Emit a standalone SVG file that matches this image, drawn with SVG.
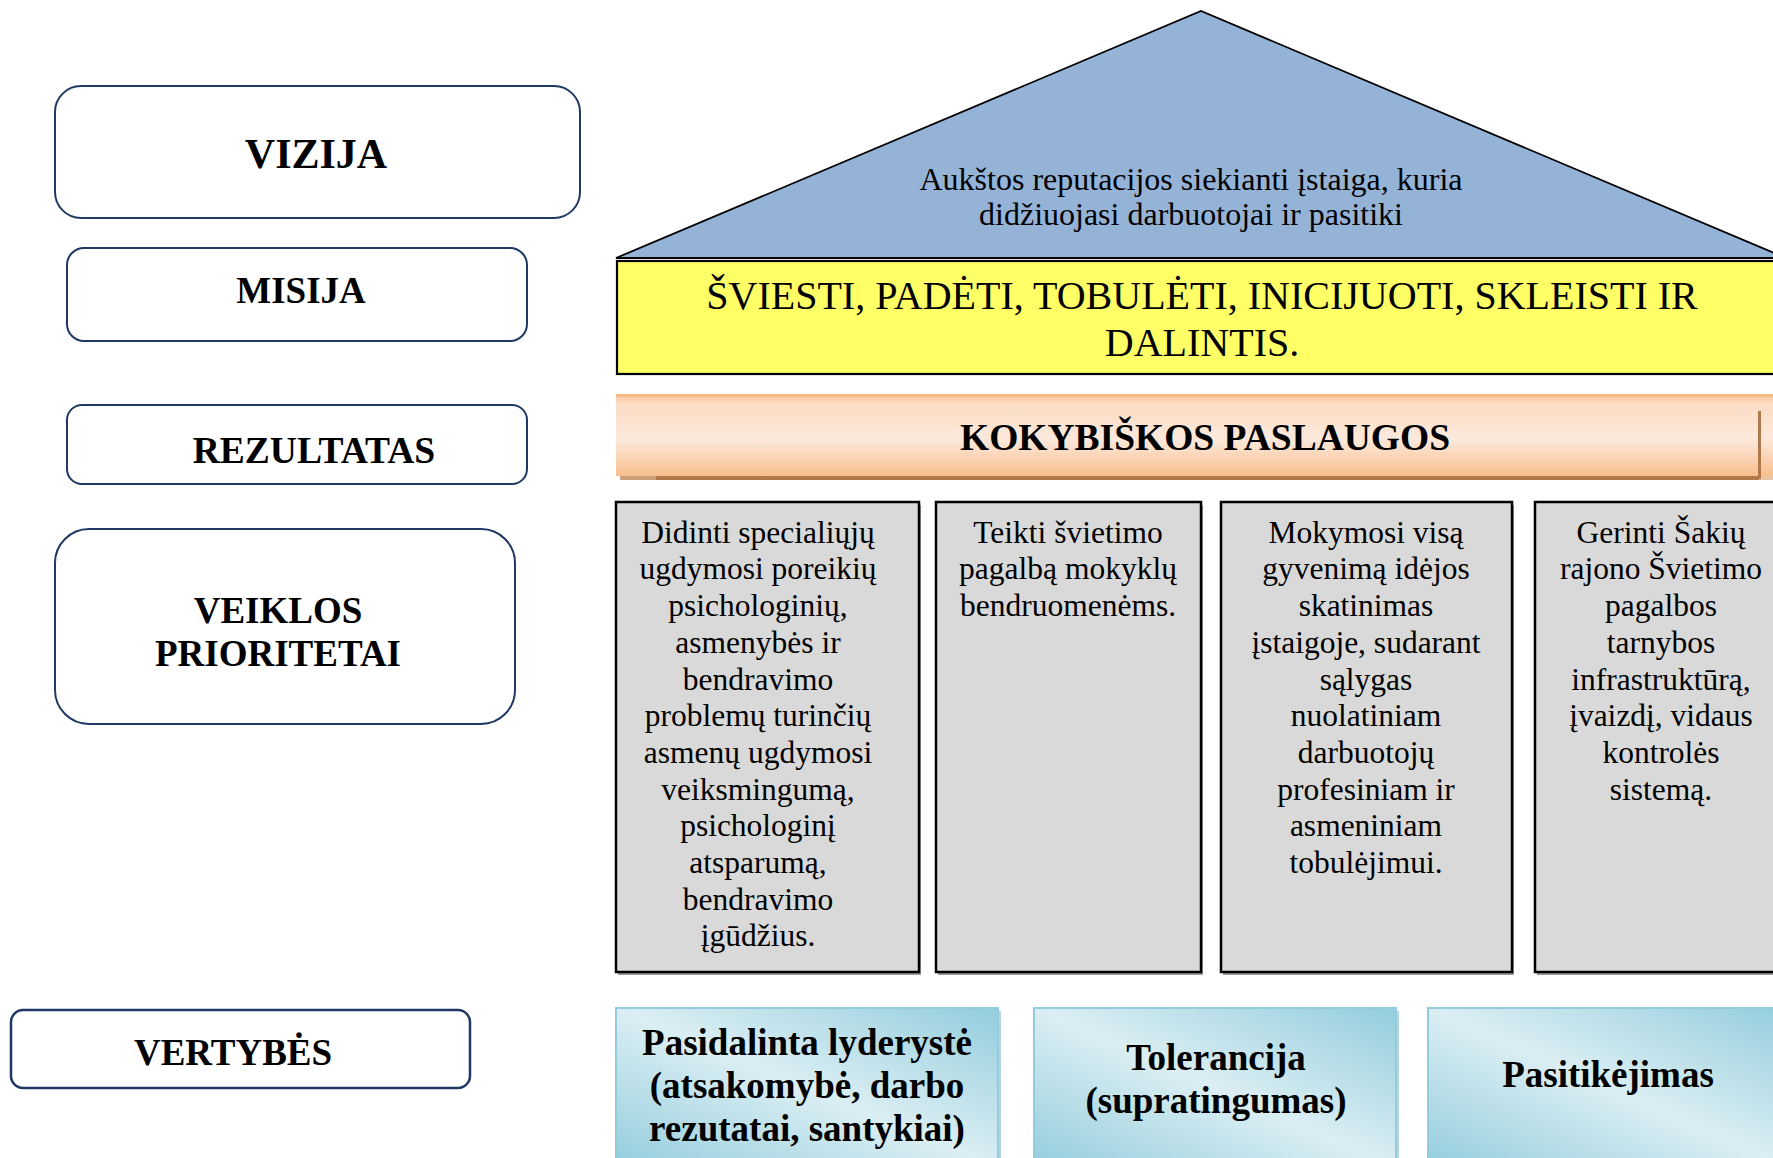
<svg xmlns="http://www.w3.org/2000/svg" width="1773" height="1158" viewBox="0 0 1773 1158">
<defs>
<linearGradient id="blueG" x1="0" y1="1" x2="1" y2="0">
<stop offset="0" stop-color="#93cddd"/>
<stop offset="0.5" stop-color="#dbeef3"/>
<stop offset="1" stop-color="#93cddd"/>
</linearGradient>
<linearGradient id="orangeG" x1="0" y1="0" x2="0" y2="1">
<stop offset="0" stop-color="#f9c396"/>
<stop offset="0.12" stop-color="#fbdcc4"/>
<stop offset="0.55" stop-color="#fce9dc"/>
<stop offset="1" stop-color="#f8be8c"/>
</linearGradient>
<style>
.lbl{fill:#fff;stroke:#1f3864;stroke-width:2}
.lt{font-family:"Liberation Serif","Times New Roman",serif;font-weight:bold;font-size:37px;text-anchor:middle;fill:#000}
.t{font-family:"Liberation Serif","Times New Roman",serif;text-anchor:middle;fill:#000}
.col{fill:#d9d9d9;stroke:#000;stroke-width:2.5}
.colsh{fill:#9a9a9a}
.ct{font-size:31.5px}
.val{fill:url(#blueG);stroke:#93cddd;stroke-width:2}
.vt{font-family:"Liberation Serif","Times New Roman",serif;font-weight:bold;font-size:37px;text-anchor:middle;fill:#000}
</style>
</defs>

<g id="vizija-label">
<rect class="lbl" x="55" y="86" width="525" height="132" rx="26" ry="26"/>
<text class="lt" x="316" y="168" style="font-size:42px">VIZIJA</text>
</g>
<g id="misija-label">
<rect class="lbl" x="67" y="248" width="460" height="93" rx="17" ry="17"/>
<text class="lt" x="301" y="303">MISIJA</text>
</g>
<g id="rezultatas-label">
<rect class="lbl" x="67" y="405" width="460" height="79" rx="15" ry="15"/>
<text class="lt" x="314" y="463" style="font-size:37.5px">REZULTATAS</text>
</g>
<g id="prioritetai-label">
<rect class="lbl" x="55" y="529" width="460" height="195" rx="34" ry="34"/>
<text class="lt" x="278" y="623">VEIKLOS</text>
<text class="lt" x="278" y="666">PRIORITETAI</text>
</g>
<g id="vertybes-label">
<rect class="lbl" x="11" y="1010" width="459" height="78" rx="12" ry="12" style="stroke-width:2.5"/>
<text class="lt" x="233" y="1065">VERTYBĖS</text>
</g>

<g id="vizija-roof">
<polygon points="616,258 1201,11 1786,258" fill="#95b3d7" stroke="#000" stroke-width="1.8"/>
<text class="t" x="1191" y="190" style="font-size:32px">Aukštos reputacijos siekianti įstaiga, kuria</text>
<text class="t" x="1191" y="225" style="font-size:32px">didžiuojasi darbuotojai ir pasitiki</text>
</g>

<g id="misija-beam">
<rect x="617" y="261" width="1170" height="113" fill="#ffff66" stroke="#000" stroke-width="2.2"/>
<text class="t" x="1202" y="309" style="font-size:40px">ŠVIESTI, PADĖTI, TOBULĖTI, INICIJUOTI, SKLEISTI IR</text>
<text class="t" x="1202" y="356" style="font-size:40px">DALINTIS.</text>
</g>

<g id="rezultatas-banner">
<rect x="620" y="476" width="1139" height="4" fill="#b07848"/>
<rect x="620" y="476" width="36" height="4" fill="#c9a07a"/>
<rect x="1759" y="476" width="20" height="4" fill="#e8c4a4"/>
<rect x="616" y="394" width="1170" height="82" fill="url(#orangeG)"/>
<rect x="616" y="394" width="1170" height="3" fill="#f6b885"/>
<rect x="1758" y="411" width="3" height="68" fill="#b07848"/>
<text class="t" x="1205" y="450" style="font-size:37.5px;font-weight:bold">KOKYBIŠKOS PASLAUGOS</text>
</g>

<g id="priority-1">
<rect class="colsh" x="618" y="505" width="303" height="470"/>
<rect class="col" x="616" y="502" width="303" height="470"/>
<text class="t ct" x="758" y="542.7">Didinti specialiųjų</text>
<text class="t ct" x="758" y="579.4">ugdymosi poreikių</text>
<text class="t ct" x="758" y="616.1">psichologinių,</text>
<text class="t ct" x="758" y="652.8">asmenybės ir</text>
<text class="t ct" x="758" y="689.5">bendravimo</text>
<text class="t ct" x="758" y="726.2">problemų turinčių</text>
<text class="t ct" x="758" y="762.9">asmenų ugdymosi</text>
<text class="t ct" x="758" y="799.6">veiksmingumą,</text>
<text class="t ct" x="758" y="836.3">psichologinį</text>
<text class="t ct" x="758" y="873">atsparumą,</text>
<text class="t ct" x="758" y="909.7">bendravimo</text>
<text class="t ct" x="758" y="946.4">įgūdžius.</text>
</g>
<g id="priority-2">
<rect class="colsh" x="938" y="505" width="265" height="470"/>
<rect class="col" x="936" y="502" width="265" height="470"/>
<text class="t ct" x="1068" y="542.7">Teikti švietimo</text>
<text class="t ct" x="1068" y="579.4">pagalbą mokyklų</text>
<text class="t ct" x="1068" y="616.1">bendruomenėms.</text>
</g>
<g id="priority-3">
<rect class="colsh" x="1223" y="505" width="291" height="470"/>
<rect class="col" x="1221" y="502" width="291" height="470"/>
<text class="t ct" x="1366" y="542.7">Mokymosi visą</text>
<text class="t ct" x="1366" y="579.4">gyvenimą idėjos</text>
<text class="t ct" x="1366" y="616.1">skatinimas</text>
<text class="t ct" x="1366" y="652.8">įstaigoje, sudarant</text>
<text class="t ct" x="1366" y="689.5">sąlygas</text>
<text class="t ct" x="1366" y="726.2">nuolatiniam</text>
<text class="t ct" x="1366" y="762.9">darbuotojų</text>
<text class="t ct" x="1366" y="799.6">profesiniam ir</text>
<text class="t ct" x="1366" y="836.3">asmeniniam</text>
<text class="t ct" x="1366" y="873">tobulėjimui.</text>
</g>
<g id="priority-4">
<rect class="colsh" x="1537" y="505" width="260" height="470"/>
<rect class="col" x="1535" y="502" width="260" height="470"/>
<text class="t ct" x="1661" y="542.7">Gerinti Šakių</text>
<text class="t ct" x="1661" y="579.4">rajono Švietimo</text>
<text class="t ct" x="1661" y="616.1">pagalbos</text>
<text class="t ct" x="1661" y="652.8">tarnybos</text>
<text class="t ct" x="1661" y="689.5">infrastruktūrą,</text>
<text class="t ct" x="1661" y="726.2">įvaizdį, vidaus</text>
<text class="t ct" x="1661" y="762.9">kontrolės</text>
<text class="t ct" x="1661" y="799.6">sistemą.</text>
</g>

<g id="value-1">
<rect x="619" y="1011" width="382" height="160" fill="#b8d4dc"/>
<rect class="val" x="616" y="1008" width="382" height="160"/>
<text class="vt" x="807" y="1055">Pasidalinta lyderystė</text>
<text class="vt" x="807" y="1098">(atsakomybė, darbo</text>
<text class="vt" x="807" y="1141">rezutatai, santykiai)</text>
</g>
<g id="value-2">
<rect x="1037" y="1011" width="362" height="160" fill="#b8d4dc"/>
<rect class="val" x="1034" y="1008" width="362" height="160"/>
<text class="vt" x="1216" y="1070">Tolerancija</text>
<text class="vt" x="1216" y="1113">(supratingumas)</text>
</g>
<g id="value-3">
<rect class="val" x="1428" y="1008" width="362" height="160"/>
<text class="vt" x="1608" y="1087">Pasitikėjimas</text>
</g>

<g id="connectors"></g>
</svg>
